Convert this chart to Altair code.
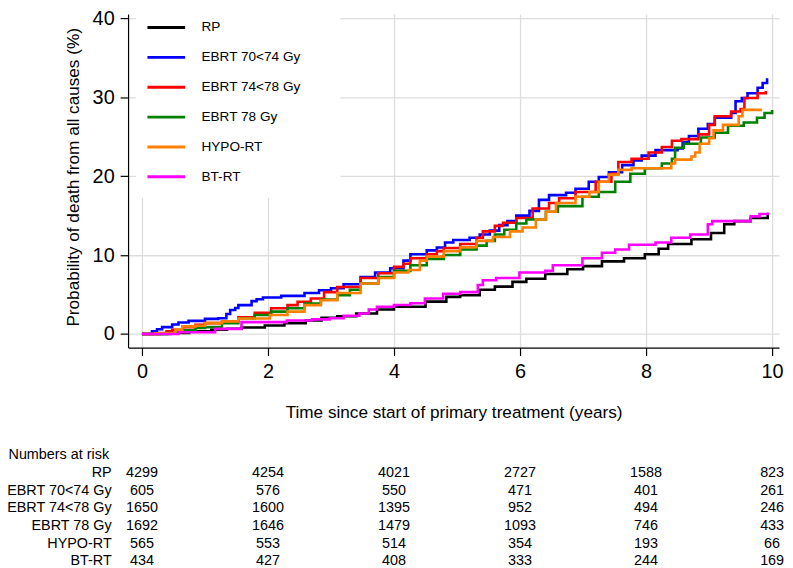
import altair as alt
import pandas as pd

groups = ["RP", "EBRT 70<74 Gy", "EBRT 74<78 Gy", "EBRT 78 Gy", "HYPO-RT", "BT-RT"]
colors = ["#000000", "#0000ff", "#ff0000", "#008000", "#ff8000", "#ff00ff"]

rp_t = [0, 0.45, 0.75, 1.1, 1.35, 1.58, 1.95, 2.26, 2.6, 2.85, 3.1, 3.4, 3.73, 4.0, 4.5, 4.83, 5.05, 5.36, 5.6, 5.88,
        6.1, 6.4, 6.75, 7.0, 7.3, 7.65, 7.98, 8.2, 8.35, 8.72, 9.03, 9.24, 9.4, 9.66, 9.93]
rp_v = [0, 0.12, 0.33, 0.54, 0.66, 0.83, 1.08, 1.37, 1.7, 2.05, 2.25, 2.6, 3.1, 3.46, 4.1, 4.7, 4.9, 5.6, 6.0, 6.6,
        7.0, 7.6, 8.2, 8.6, 9.2, 9.6, 10.1, 10.8, 11.4, 12.0, 12.8, 13.9, 14.3, 14.7, 15.3]

e70_t = [0, 0.16, 0.24, 0.32, 0.48, 0.58, 0.74, 1.0, 1.21, 1.34, 1.4, 1.48, 1.53, 1.74, 1.82, 1.92, 2.21, 2.58, 2.81, 3.0,
         3.2, 3.47, 3.7, 3.94, 4.15, 4.26, 4.52, 4.68, 4.81, 4.94, 5.2, 5.36, 5.52, 5.67, 5.8, 5.94, 6.15, 6.3, 6.46, 6.73,
         6.88, 7.09, 7.25, 7.41, 7.62, 7.8, 7.93, 8.15, 8.5, 8.58, 8.68, 8.83, 8.98, 9.09, 9.35, 9.42, 9.52, 9.61, 9.77, 9.85,
         9.92]
e70_v = [0, 0.33, 0.6, 0.87, 1.2, 1.45, 1.66, 1.91, 2.0, 2.54, 3.04, 3.29, 3.66, 4.16, 4.41, 4.62, 4.83, 5.2, 5.54, 5.8,
         6.3, 7.2, 7.8, 8.33, 9.3, 10.1, 10.6, 10.95, 11.6, 11.9, 12.2, 12.6, 13.1, 13.8, 14.3, 15.0, 15.6, 17.0, 17.6, 17.9,
         18.4, 19.3, 19.9, 20.5, 21.4, 22.0, 22.6, 23.3, 23.5, 24.3, 25.1, 26.0, 26.6, 27.4, 28.0, 29.5, 29.9, 30.5, 31.2, 31.8,
         32.4]

e74_t = [0, 0.29, 0.39, 0.48, 0.64, 0.85, 1.0, 1.27, 1.53, 1.79, 2.05, 2.31, 2.47, 2.68, 2.89, 3.1, 3.47, 3.75, 4.0, 4.15,
         4.26, 4.52, 4.68, 4.79, 5.05, 5.31, 5.41, 5.6, 5.73, 5.94, 6.2, 6.46, 6.62, 6.88, 7.2, 7.45, 7.56, 7.77, 8.04, 8.25,
         8.41, 8.56, 8.83, 9.0, 9.09, 9.35, 9.5, 9.56, 9.77, 9.9]
e74_v = [0, 0.12, 0.33, 0.54, 0.87, 1.16, 1.37, 1.58, 2.12, 2.7, 3.25, 3.66, 4.08, 4.5, 5.3, 5.95, 7.1, 7.7, 8.5, 8.9,
         9.6, 10.1, 10.5, 10.9, 11.4, 12.2, 13.0, 13.7, 14.1, 14.7, 15.9, 16.6, 17.2, 18.0, 19.3, 20.3, 21.8, 22.2, 23.0, 23.7,
         24.5, 24.7, 25.3, 26.5, 27.6, 28.2, 28.5, 29.9, 30.5, 30.8]

e78_t = [0, 0.39, 0.58, 0.85, 1.0, 1.27, 1.53, 1.79, 2.05, 2.31, 2.58, 2.84, 3.1, 3.3, 3.47, 3.75, 4.0, 4.26, 4.52, 4.79,
         5.05, 5.31, 5.47, 5.6, 5.75, 5.94, 6.1, 6.41, 6.6, 6.99, 7.25, 7.51, 7.75, 7.98, 8.25, 8.41, 8.46, 8.6, 8.87, 9.09,
         9.3, 9.55, 9.76, 9.88, 10.0]
e78_v = [0, 0.12, 0.46, 0.75, 0.87, 1.37, 2.0, 2.41, 2.83, 3.25, 3.87, 4.37, 4.91, 5.6, 6.4, 7.2, 8.0, 8.7, 9.5, 10.0,
         10.7, 11.2, 11.8, 12.6, 13.2, 14.0, 14.5, 15.5, 16.2, 17.4, 18.0, 19.3, 20.3, 21.0, 21.6, 22.2, 23.6, 24.1, 24.9, 25.5,
         26.4, 26.8, 27.4, 28.0, 28.4]

hypo_t = [0, 0.21, 0.53, 0.64, 0.85, 1.0, 1.27, 1.53, 2.03, 2.31, 2.58, 2.84, 3.1, 3.47, 3.75, 4.0, 4.23, 4.41, 4.52, 4.79,
          5.05, 5.31, 5.57, 5.84, 6.04, 6.25, 6.41, 6.57, 6.88, 7.1, 7.25, 7.41, 7.56, 7.77, 8.4, 8.46, 8.72, 8.78, 8.85, 9.0,
          9.07, 9.22, 9.47, 9.53, 9.84]
hypo_v = [0, 0.1, 0.54, 0.96, 1.04, 1.37, 1.58, 1.95, 2.41, 2.83, 3.66, 4.29, 5.2, 6.4, 7.1, 7.8, 8.1, 9.3, 9.8, 10.5,
          11.0, 11.8, 12.3, 13.0, 13.5, 14.5, 15.5, 16.6, 17.4, 18.0, 19.3, 20.2, 20.8, 21.0, 21.6, 22.1, 22.5, 23.0, 24.1, 24.8,
          25.8, 26.5, 27.6, 28.4, 28.4]

bt_t = [0, 0.58, 1.16, 1.58, 2.3, 2.7, 2.98, 3.2, 3.45, 3.6, 3.73, 4.0, 4.26, 4.49, 4.78, 5.05, 5.33, 5.41, 5.62, 5.99,
        6.4, 6.52, 6.99, 7.3, 7.51, 7.73, 8.15, 8.4, 8.7, 8.98, 9.05, 9.66, 9.8, 9.93]
bt_v = [0, 0.22, 0.65, 1.5, 1.7, 1.85, 2.0, 2.3, 2.6, 3.1, 3.46, 3.67, 3.9, 4.5, 5.1, 5.3, 6.2, 6.8, 7.1, 7.8,
        8.0, 8.7, 9.6, 10.3, 10.7, 11.3, 11.6, 12.2, 12.6, 13.9, 14.3, 14.9, 15.2, 15.4]

risk_times = [0, 2, 4, 6, 8, 10]
risk_rp = [4299, 4254, 4021, 2727, 1588, 823]
risk_e70 = [605, 576, 550, 471, 401, 261]
risk_e74 = [1650, 1600, 1395, 952, 494, 246]
risk_e78 = [1692, 1646, 1479, 1093, 746, 433]
risk_hypo = [565, 553, 514, 354, 193, 66]
risk_bt = [434, 427, 408, 333, 244, 169]

x_ticks = [0, 2, 4, 6, 8, 10]
y_ticks = [0, 10, 20, 30, 40]
x_title = "Time since start of primary treatment (years)"
y_title = "Probability of death from all causes (%)"
table_title = "Numbers at risk"

FONT = "Liberation Sans"
curves = [(rp_t, rp_v), (e70_t, e70_v), (e74_t, e74_v), (e78_t, e78_v), (hypo_t, hypo_v), (bt_t, bt_v)]
risks = [risk_rp, risk_e70, risk_e74, risk_e78, risk_hypo, risk_bt]

rows = []
for g, (ts, vs) in zip(groups, curves):
    for t, v in zip(ts, vs):
        rows.append({"t": t, "v": v, "group": g})
df = pd.DataFrame(rows)

x_enc = alt.X(
    "t:Q",
    scale=alt.Scale(domain=[-0.22, 10.11], nice=False, zero=False),
    axis=alt.Axis(values=x_ticks, title=x_title, format="d", labelFlush=False,
                  grid=True, gridColor="#dddddd", gridWidth=1.3,
                  domainColor="black", domainWidth=1.2, tickColor="black", tickWidth=1.2, tickSize=8,
                  labelFontSize=20, labelColor="black", labelPadding=6,
                  titleFontSize=17.3, titleFontWeight="normal", titleColor="black",
                  titleY=70, titleBaseline="alphabetic"),
)

lines = alt.Chart(df).mark_line(interpolate="step-after", strokeWidth=2.6).encode(
    x=x_enc,
    y=alt.Y("v:Q", scale=alt.Scale(domain=[-1.72, 40.54], nice=False, zero=False),
            axis=alt.Axis(values=y_ticks, title=y_title, grid=True, gridColor="#dddddd", gridWidth=1.3,
                          domainColor="black", domainWidth=1.2, tickColor="black", tickWidth=1.2, tickSize=8,
                          labelFontSize=20, labelColor="black", labelPadding=6,
                          titleFontSize=17.3, titleFontWeight="normal", titleColor="black",
                          titleAngle=270, titleX=-49.8, titleY=164, titleAlign="center",
                          titleBaseline="alphabetic")),
    color=alt.Color("group:N", scale=alt.Scale(domain=groups, range=colors),
                    legend=alt.Legend(title=None, orient="none", legendX=18, legendY=-7,
                                      symbolType="stroke", symbolSize=1444, symbolStrokeWidth=3,
                                      labelFontSize=13.7, labelOffset=15, rowPadding=2.1, padding=0,
                                      labelColor="black", labelLimit=300)),
    detail="group:N",
)

bg = alt.Chart(pd.DataFrame({"a": [0]})).mark_rect(color="white").encode(
    x=alt.value(8), x2=alt.value(214), y=alt.value(-5), y2=alt.value(185)
)

# table rows (page y minus plot top of 12)
base_y = 448.7
step_y = 17.8
layers = [bg, lines]
layers.append(
    alt.Chart(pd.DataFrame({"a": [0]})).mark_text(fontSize=14.5, color="black", align="left", baseline="alphabetic").encode(
        x=alt.value(-120.5), y=alt.value(base_y), text=alt.value(table_title))
)
for i, (g, counts) in enumerate(zip(groups, risks)):
    yb = base_y + step_y * (i + 1)
    layers.append(
        alt.Chart(pd.DataFrame({"a": [0]})).mark_text(fontSize=14.5, color="black", align="right", baseline="alphabetic").encode(
            x=alt.value(-16.5), y=alt.value(yb), text=alt.value(g))
    )
    tdf = pd.DataFrame({"t": risk_times, "n": [str(c) for c in counts]})
    layers.append(
        alt.Chart(tdf).mark_text(fontSize=14.5, color="black", align="center", baseline="alphabetic").encode(
            x=x_enc, y=alt.value(yb), text="n:N")
    )

chart = alt.layer(*layers).properties(
    width=656, height=336,
    padding={"left": 121, "top": 4, "right": 6, "bottom": 220},
    autosize=alt.AutoSizeParams(type="none"),
).configure(font=FONT).configure_view(stroke=None)

chart.save("out.html", embed_options={"renderer": "svg", "actions": False})
